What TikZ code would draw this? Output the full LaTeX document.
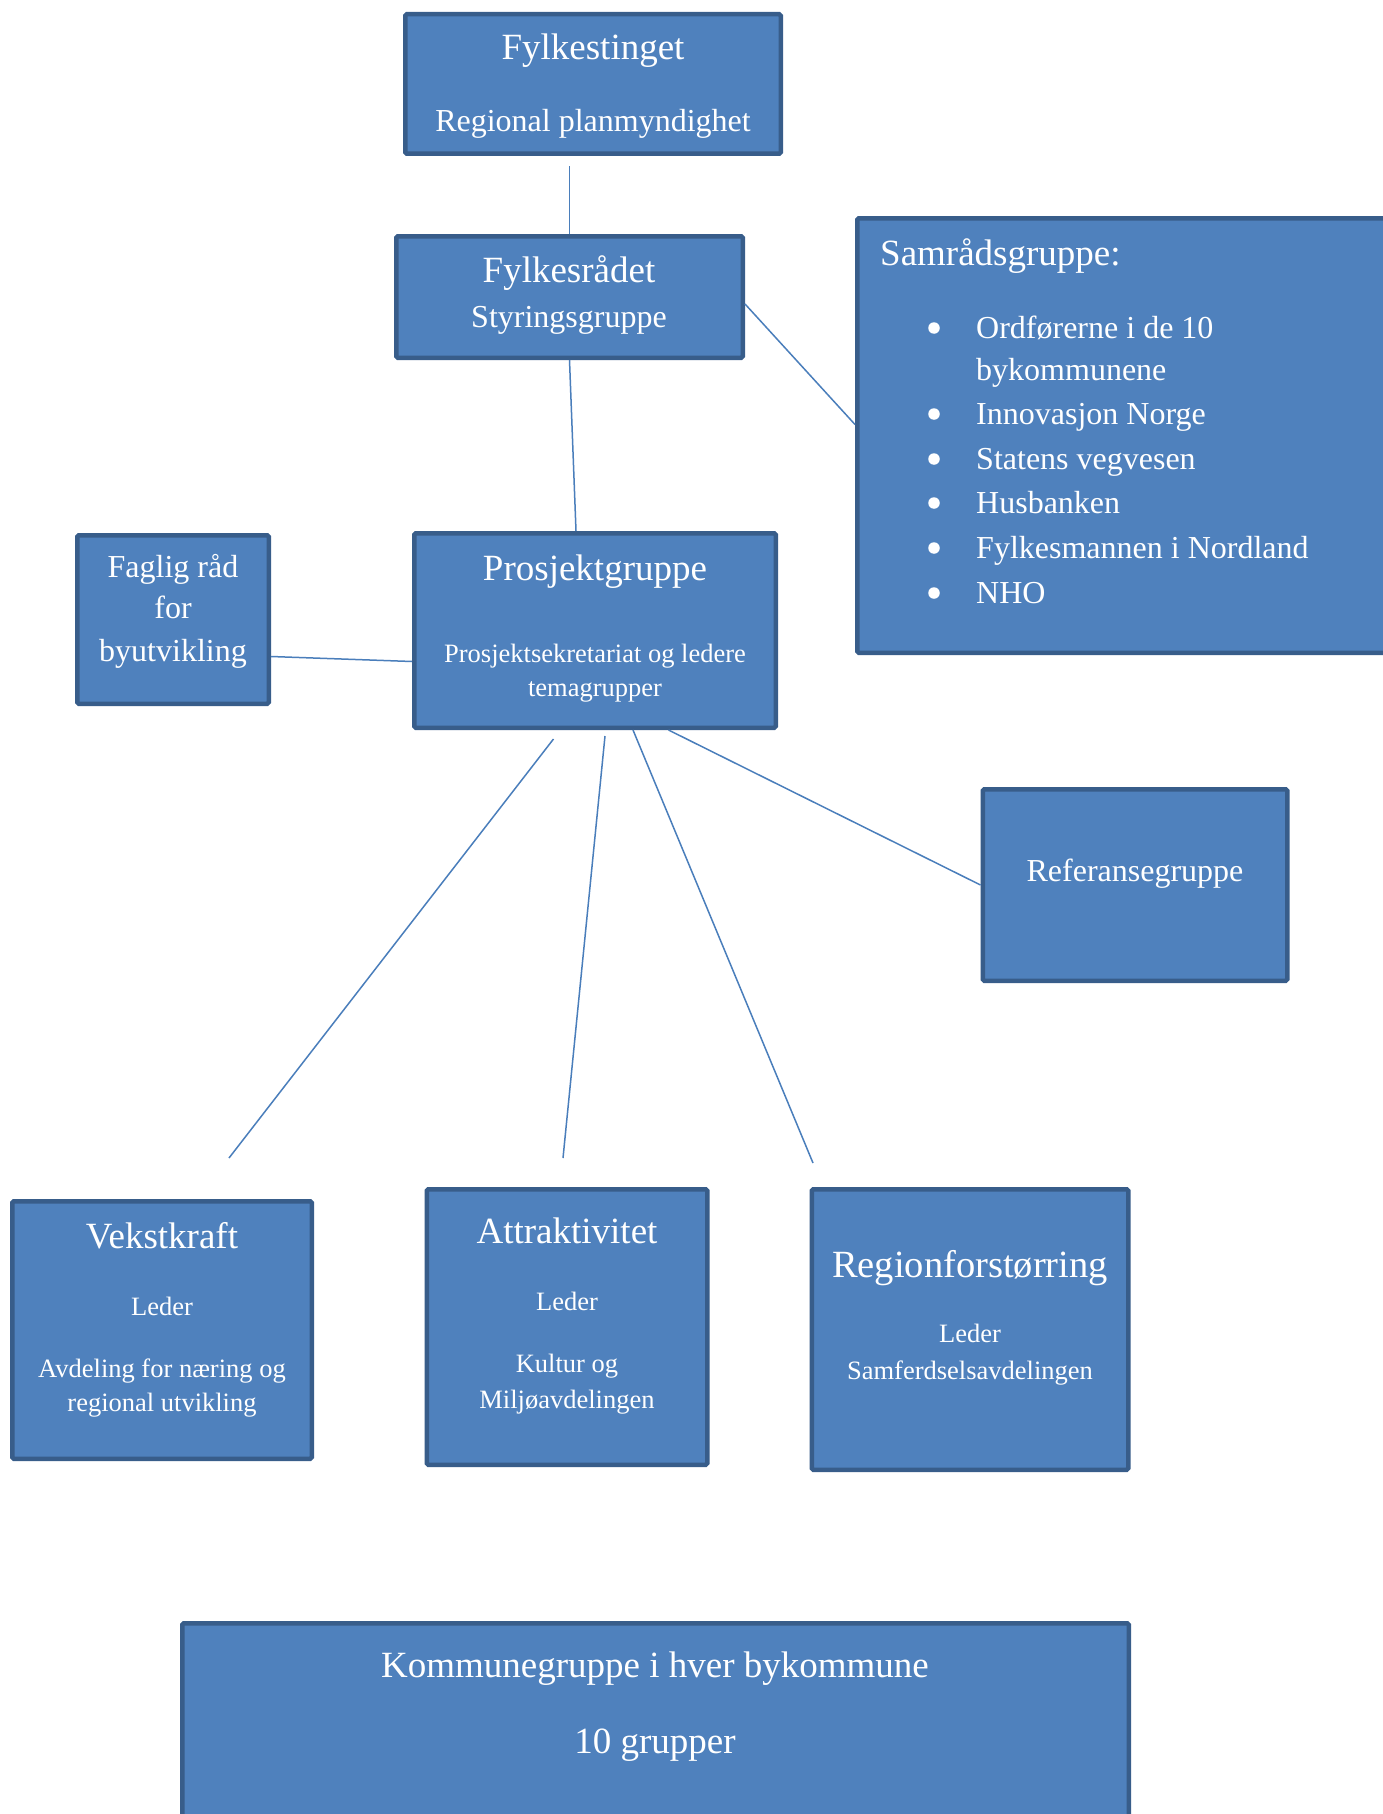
\documentclass[tikz,border=0pt]{standalone}
\usepackage{fontspec}
\setmainfont{Liberation Serif}
\usepackage{tikz}
\definecolor{boksblaa}{HTML}{4F81BD}
\definecolor{boksrand}{HTML}{385D8A}
\definecolor{linjeblaa}{HTML}{4A7EBB}
\tikzset{
  boks/.style={draw=boksrand, fill=boksblaa, line width=4.5pt, rounded corners=1.5pt, inner sep=0pt},
  tekst/.style={text=white, anchor=base, inner sep=0pt},
  punkt/.style={text=white, anchor=base west, inner sep=0pt},
  kule/.style={circle, fill=white, minimum size=11.5pt, inner sep=0pt},
  linje/.style={linjeblaa, line width=1.5pt},
}
\newcommand{\stor}{\fontsize{37}{42}\selectfont}
\newcommand{\mellom}{\fontsize{32}{37}\selectfont}
\newcommand{\liten}{\fontsize{26.5}{30}\selectfont}

\begin{document}
\begin{tikzpicture}[x=1pt, y=-1pt]
    \useasboundingbox (0, 0) rectangle (1383, 1814);
    \fill[white] (0, 0) rectangle (1383, 1814);
    \clip (0, 0) rectangle (1383, 1814);
    % bokser
    \node[boks, minimum width=375.5pt, minimum height=139.5pt](fylkestinget)at(593, 84){};
    \node[boks, minimum width=346.5pt, minimum height=121.5pt](fylkesraadet)at(569.5, 297){};
    \node[boks, minimum width=560.5pt, minimum height=434.5pt](samraad)at(1137.5, 435.5){};
    \node[boks, minimum width=191.5pt, minimum height=168.5pt](faglig)at(173, 619.5){};
    \node[boks, minimum width=361.5pt, minimum height=194.5pt](prosjekt)at(595, 630.5){};
    \node[boks, minimum width=304.5pt, minimum height=191.5pt](referanse)at(1135, 885){};
    \node[boks, minimum width=299.5pt, minimum height=257.5pt](vekstkraft)at(162, 1330){};
    \node[boks, minimum width=280.5pt, minimum height=275.5pt](attraktivitet)at(567, 1327){};
    \node[boks, minimum width=316.5pt, minimum height=280.5pt](region)at(970, 1329.5){};
    \node[boks, minimum width=946.5pt, minimum height=244.5pt](kommune)at(655.5, 1745.5){};
    % tekster
    \node[tekst](fylkestinget-t)at(593, 60){\stor Fylkestinget};
    \node[tekst](fylkestinget-u)at(593, 132){\mellom Regional planmyndighet};
    \node[tekst](fylkesraadet-t)at(569, 282){\stor Fylkesrådet};
    \node[tekst](fylkesraadet-u)at(569, 327){\mellom Styringsgruppe};
    \node[punkt](samraad-t)at(880, 265){\stor Samrådsgruppe:};
    \foreach \y/\navn in {338/Ordførerne i de 10, 424/Innovasjon Norge, 469/Statens vegvesen, 513/Husbanken, 558/Fylkesmannen i Nordland, 603/NHO}{
        \node[kule](kule-\y)at(934, \y-10){};
        \node[punkt](medlem-\y)at(976, \y){\mellom \navn};
    }
    \node[punkt](medlem-380)at(976, 380){\mellom bykommunene};
    \node[tekst](faglig-a)at(173, 577){\mellom Faglig råd};
    \node[tekst](faglig-b)at(173, 618){\mellom for};
    \node[tekst](faglig-c)at(173, 661){\mellom byutvikling};
    \node[tekst](prosjekt-t)at(595, 580){\stor Prosjektgruppe};
    \node[tekst](prosjekt-a)at(595, 662){\liten Prosjektsekretariat og ledere};
    \node[tekst](prosjekt-b)at(595, 696){\liten temagrupper};
    \node[tekst](referanse-t)at(1135, 881){\mellom Referansegruppe};
    \node[tekst](vekstkraft-t)at(162, 1248){\stor Vekstkraft};
    \node[tekst](vekstkraft-a)at(162, 1315){\liten Leder};
    \node[tekst](vekstkraft-b)at(162, 1377){\liten Avdeling for næring og};
    \node[tekst](vekstkraft-c)at(162, 1411){\liten regional utvikling};
    \node[tekst](attraktivitet-t)at(567, 1243){\stor Attraktivitet};
    \node[tekst](attraktivitet-a)at(567, 1310){\liten Leder};
    \node[tekst](attraktivitet-b)at(567, 1372){\liten Kultur og};
    \node[tekst](attraktivitet-c)at(567, 1408){\liten Miljøavdelingen};
    \node[tekst](region-t)at(970, 1277){\fontsize{38.5}{44}\selectfont Regionforstørring};
    \node[tekst](region-a)at(970, 1342){\liten Leder};
    \node[tekst](region-b)at(970, 1379){\liten Samferdselsavdelingen};
    \node[tekst](kommune-t)at(655, 1677){\stor Kommunegruppe i hver bykommune};
    \node[tekst](kommune-u)at(655, 1753){\stor 10 grupper};
    % linjer
    \coordinate(vekst-topp)at(229, 1158);
    \coordinate(attr-topp)at(563, 1158);
    \coordinate(region-topp)at(813, 1163);
    \draw[linje, shorten >=10pt](fylkesraadet.north)--(fylkesraadet.north |- fylkestinget.south);
    \draw[linje](fylkesraadet.south)--([xshift=-19pt]prosjekt.north);
    \draw[linje]([yshift=-7pt]fylkesraadet.east)--([yshift=11pt]samraad.west);
    \draw[linje]([yshift=-37pt]faglig.east)--([yshift=-31pt]prosjekt.west);
    \draw[linje]([xshift=73.5pt]prosjekt.south)--(referanse.west);
    \draw[linje]([xshift=-41.5pt, yshift=-9pt]prosjekt.south)--(vekst-topp);
    \draw[linje]([xshift=10pt, yshift=-6pt]prosjekt.south)--(attr-topp);
    \draw[linje]([xshift=38pt]prosjekt.south)--(region-topp);
\end{tikzpicture}
\end{document}
